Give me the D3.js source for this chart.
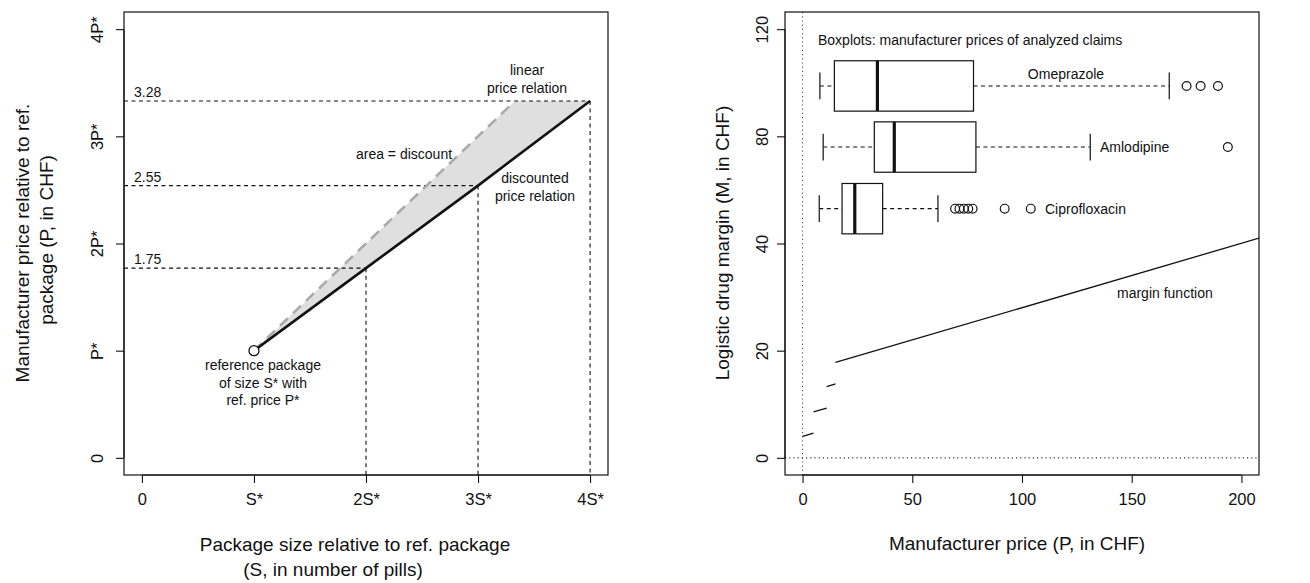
<!DOCTYPE html>
<html><head><meta charset="utf-8">
<script src="https://cdn.jsdelivr.net/npm/d3@7"></script>
<style>body{margin:0;background:#fff}svg{display:block}text{font-family:"Liberation Sans",Arial,Helvetica,sans-serif;fill:#111}</style>
</head><body>
<script>
// ---- Left panel data ----
const leftTicks = [0, 1, 2, 3, 4];
const leftXLabels = ["0", "S*", "2S*", "3S*", "4S*"];
const leftYLabels = ["0", "P*", "2P*", "3P*", "4P*"];
const discountedS = [1, 2, 3, 4];
const discountedP = [1, 1.77, 2.54, 3.33];
const discountedLabels = ["", "1.75", "2.55", "3.28"];
const linearS = [1, 3.33];
const linearP = [1, 3.33];

// ---- Right panel data ----
const rightXTicks = [0, 50, 100, 150, 200];
const rightYTickPos = [0, 20, 40, 60, 80];
const rightYTickLabels = ["0", "20", "40", "80", "120"];
const marginP0 = [0, 5, 11, 15];
const marginP1 = [5, 11, 15, 208];
const marginM0 = [4, 8.6, 13.3, 17.8];
const marginM1 = [4.6, 9.3, 13.8, 41];
const drugs = ["Omeprazole", "Amlodipine", "Ciprofloxacin"];
const boxPos = [69.4, 58.0, 46.5];
const whiskLo = [7.9, 9.4, 7.6];
const q1 = [14.5, 32.7, 18.0];
const med = [34.1, 41.8, 23.8];
const q3 = [77.9, 79.0, 36.5];
const whiskHi = [167.1, 131.1, 61.7];
const outliers = [[175, 181.4, 189.3], [193.8], [69.5, 71.5, 73.5, 75.5, 77.5, 92.1, 104]];

const W = 1310, H = 583;
const svg = d3.select("body").append("svg").attr("width", W).attr("height", H);
const fontTick = 16.5, fontTitle = 19, fontAnn = 14;

// ================= LEFT PANEL =================
const L = {x0: 124, x1: 608, y0: 12, y1: 475};
const xL = d3.scaleLinear().domain([-0.16, 4.16]).range([L.x0, L.x1]);
const yL = d3.scaleLinear().domain([-0.16, 4.16]).range([L.y1, L.y0]);
const gL = svg.append("g");

// discount area polygon
const polyPts = [[linearS[0], linearP[0]], [linearS[1], linearP[1]], [discountedS[3], discountedP[3]],
  [discountedS[2], discountedP[2]], [discountedS[1], discountedP[1]]];
gL.append("path").attr("d", d3.line().x(d => xL(d[0])).y(d => yL(d[1]))(polyPts) + "Z")
  .attr("fill", "#dedfde").attr("stroke", "none");

// dashed reference lines
discountedS.forEach((s, i) => {
  if (i === 0) return;
  gL.append("line").attr("x1", L.x0).attr("x2", xL(s)).attr("y1", yL(discountedP[i])).attr("y2", yL(discountedP[i]))
    .attr("stroke", "#111").attr("stroke-width", 1.1).attr("stroke-dasharray", "4,3.5");
  gL.append("line").attr("x1", xL(s)).attr("x2", xL(s)).attr("y1", yL(discountedP[i])).attr("y2", L.y1)
    .attr("stroke", "#111").attr("stroke-width", 1.1).attr("stroke-dasharray", "4,3.5");
  gL.append("text").attr("x", L.x0 + 10).attr("y", yL(discountedP[i]) - 9).attr("font-size", fontAnn)
    .attr("dominant-baseline", "central").text(discountedLabels[i]);
});

// linear price relation (gray dashed)
gL.append("line").attr("x1", xL(linearS[0])).attr("y1", yL(linearP[0])).attr("x2", xL(linearS[1])).attr("y2", yL(linearP[1]))
  .attr("stroke", "#aaaaaa").attr("stroke-width", 2.6).attr("stroke-dasharray", "11,7");
// discounted relation (black)
gL.append("path").attr("d", d3.line().x((d, i) => xL(discountedS[i])).y((d, i) => yL(discountedP[i]))(discountedS))
  .attr("fill", "none").attr("stroke", "#111").attr("stroke-width", 2.6);
// reference point
gL.append("circle").attr("cx", xL(1)).attr("cy", yL(1)).attr("r", 5).attr("fill", "#fff").attr("stroke", "#111").attr("stroke-width", 1.3);

// annotations
const ann = (g, x, y, lines, anchor = "middle", lh = 17.5) => {
  lines.forEach((t, i) => g.append("text").attr("x", x).attr("y", y + i * lh).attr("font-size", fontAnn)
    .attr("text-anchor", anchor).attr("dominant-baseline", "central").text(t));
};
ann(gL, 527, 70, ["linear", "price relation"]);
ann(gL, 404, 154, ["area = discount"]);
ann(gL, 535, 178, ["discounted", "price relation"]);
ann(gL, 263, 365, ["reference package", "of size S* with", "ref. price P*"]);

// box
gL.append("rect").attr("x", L.x0).attr("y", L.y0).attr("width", L.x1 - L.x0).attr("height", L.y1 - L.y0)
  .attr("fill", "none").attr("stroke", "#111").attr("stroke-width", 1.2);
// axes
const axLx = d3.axisBottom(xL).tickValues(leftTicks).tickFormat((d, i) => leftXLabels[i]).tickSize(8).tickPadding(10).tickSizeOuter(0);
const gax = gL.append("g").attr("transform", `translate(0,${L.y1})`).call(axLx);
gax.select(".domain").attr("d", `M${xL(0)},0H${xL(4)}`);
gax.selectAll("text").attr("font-size", fontTick).attr("font-family", null);
const axLy = d3.axisLeft(yL).tickValues(leftTicks).tickFormat((d, i) => leftYLabels[i]).tickSize(8).tickSizeOuter(0);
const gay = gL.append("g").attr("transform", `translate(${L.x0},0)`).call(axLy);
gay.select(".domain").attr("d", `M0,${yL(0)}V${yL(4)}`);
gay.selectAll("text").attr("font-size", fontTick).attr("font-family", null)
  .attr("transform", `translate(${97 - L.x0},0) rotate(-90)`).attr("x", 0).attr("y", 0).attr("dy", null)
  .attr("text-anchor", "middle").attr("dominant-baseline", "central");
gL.selectAll(".tick text").style("fill", "#111");

// titles
gL.append("text").attr("x", 355).attr("y", 544).attr("text-anchor", "middle").attr("dominant-baseline", "central")
  .attr("font-size", fontTitle).text("Package size relative to ref. package");
gL.append("text").attr("x", 333).attr("y", 569).attr("text-anchor", "middle").attr("dominant-baseline", "central")
  .attr("font-size", fontTitle).text("(S, in number of pills)");
gL.append("text").attr("transform", "translate(22,243) rotate(-90)").attr("text-anchor", "middle").attr("dominant-baseline", "central")
  .attr("font-size", fontTitle).text("Manufacturer price relative to ref.");
gL.append("text").attr("transform", "translate(46,240) rotate(-90)").attr("text-anchor", "middle").attr("dominant-baseline", "central")
  .attr("font-size", fontTitle).text("package (P, in CHF)");

// ================= RIGHT PANEL =================
const R = {x0: 785, x1: 1259, y0: 12, y1: 475};
const xR = d3.scaleLinear().domain([-8, 208]).range([R.x0, R.x1]);
const yR = d3.scaleLinear().domain([-3.2, 83.2]).range([R.y1, R.y0]);
const gR = svg.append("g");
svg.append("clipPath").attr("id", "clipR").append("rect").attr("x", R.x0).attr("y", R.y0).attr("width", R.x1 - R.x0).attr("height", R.y1 - R.y0);

// dotted reference lines
gR.append("line").attr("x1", xR(0)).attr("x2", xR(0)).attr("y1", R.y0).attr("y2", R.y1)
  .attr("stroke", "#555").attr("stroke-width", 1.1).attr("stroke-dasharray", "1.2,3");
gR.append("line").attr("x1", R.x0).attr("x2", R.x1).attr("y1", yR(0)).attr("y2", yR(0))
  .attr("stroke", "#333").attr("stroke-width", 1.1).attr("stroke-dasharray", "1.2,3");

// margin function
const gM = gR.append("g").attr("clip-path", "url(#clipR)");
marginP0.forEach((p, i) => {
  gM.append("line").attr("x1", xR(p)).attr("y1", yR(marginM0[i])).attr("x2", xR(marginP1[i])).attr("y2", yR(marginM1[i]))
    .attr("stroke", "#111").attr("stroke-width", 1.3);
});

// boxplots
const halfBox = 4.7, halfStaple = 2.5;
drugs.forEach((d, i) => {
  const yc = yR(boxPos[i]);
  const g = gR.append("g");
  g.append("line").attr("x1", xR(whiskLo[i])).attr("x2", xR(q1[i])).attr("y1", yc).attr("y2", yc)
    .attr("stroke", "#111").attr("stroke-width", 1.1).attr("stroke-dasharray", "4,3.5");
  g.append("line").attr("x1", xR(q3[i])).attr("x2", xR(whiskHi[i])).attr("y1", yc).attr("y2", yc)
    .attr("stroke", "#111").attr("stroke-width", 1.1).attr("stroke-dasharray", "4,3.5");
  [whiskLo[i], whiskHi[i]].forEach(v => g.append("line").attr("x1", xR(v)).attr("x2", xR(v))
    .attr("y1", yR(boxPos[i] + halfStaple)).attr("y2", yR(boxPos[i] - halfStaple)).attr("stroke", "#111").attr("stroke-width", 1.2));
  g.append("rect").attr("x", xR(q1[i])).attr("width", xR(q3[i]) - xR(q1[i]))
    .attr("y", yR(boxPos[i] + halfBox)).attr("height", yR(boxPos[i] - halfBox) - yR(boxPos[i] + halfBox))
    .attr("fill", "none").attr("stroke", "#111").attr("stroke-width", 1.2);
  g.append("line").attr("x1", xR(med[i])).attr("x2", xR(med[i]))
    .attr("y1", yR(boxPos[i] + halfBox)).attr("y2", yR(boxPos[i] - halfBox)).attr("stroke", "#111").attr("stroke-width", 3.2);
  outliers[i].forEach(v => g.append("circle").attr("cx", xR(v)).attr("cy", yc).attr("r", 4.4)
    .attr("fill", "none").attr("stroke", "#111").attr("stroke-width", 1.2));
});

// annotations
gR.append("text").attr("x", 818).attr("y", 40).attr("font-size", fontAnn).attr("dominant-baseline", "central")
  .text("Boxplots: manufacturer prices of analyzed claims");
gR.append("text").attr("x", 1066).attr("y", 74).attr("font-size", fontAnn).attr("text-anchor", "middle").attr("dominant-baseline", "central").text(drugs[0]);
gR.append("text").attr("x", 1100).attr("y", 147).attr("font-size", fontAnn).attr("dominant-baseline", "central").text(drugs[1]);
gR.append("text").attr("x", 1045).attr("y", 209).attr("font-size", fontAnn).attr("dominant-baseline", "central").text(drugs[2]);
gR.append("text").attr("x", 1117).attr("y", 293).attr("font-size", fontAnn).attr("dominant-baseline", "central").text("margin function");

// box and axes
gR.append("rect").attr("x", R.x0).attr("y", R.y0).attr("width", R.x1 - R.x0).attr("height", R.y1 - R.y0)
  .attr("fill", "none").attr("stroke", "#111").attr("stroke-width", 1.2);
const axRx = d3.axisBottom(xR).tickValues(rightXTicks).tickSize(8).tickPadding(10).tickSizeOuter(0);
const grx = gR.append("g").attr("transform", `translate(0,${R.y1})`).call(axRx);
grx.select(".domain").attr("d", `M${xR(0)},0H${xR(200)}`);
grx.selectAll("text").attr("font-size", fontTick).attr("font-family", null);
const axRy = d3.axisLeft(yR).tickValues(rightYTickPos).tickFormat((d, i) => rightYTickLabels[i]).tickSize(8).tickSizeOuter(0);
const gry = gR.append("g").attr("transform", `translate(${R.x0},0)`).call(axRy);
gry.select(".domain").attr("d", `M0,${yR(0)}V${yR(80)}`);
gry.selectAll("text").attr("font-size", fontTick).attr("font-family", null)
  .attr("transform", `translate(${762 - R.x0},0) rotate(-90)`).attr("x", 0).attr("y", 0).attr("dy", null)
  .attr("text-anchor", "middle").attr("dominant-baseline", "central");
gR.selectAll(".tick text").style("fill", "#111");
svg.selectAll(".tick line, .domain").attr("stroke", "#111").attr("stroke-width", 1.1);

gR.append("text").attr("x", 1017).attr("y", 543).attr("text-anchor", "middle").attr("dominant-baseline", "central")
  .attr("font-size", fontTitle).text("Manufacturer price (P, in CHF)");
gR.append("text").attr("transform", "translate(722,243) rotate(-90)").attr("text-anchor", "middle").attr("dominant-baseline", "central")
  .attr("font-size", fontTitle).text("Logistic drug margin (M, in CHF)");
</script>
</body></html>
